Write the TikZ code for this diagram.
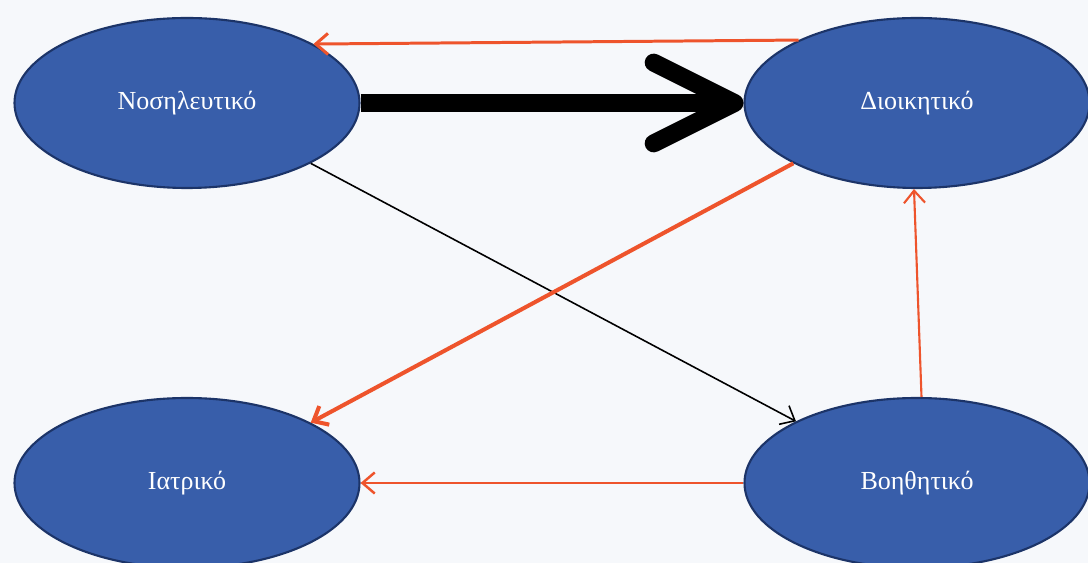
\documentclass[tikz,border=0pt]{standalone}
\usepackage{fontspec}
\setmainfont{Liberation Serif}
\usepackage{tikz}
\usetikzlibrary{positioning}
\usetikzlibrary{shapes.geometric,arrows.meta}
\definecolor{deptblue}{RGB}{56,94,170}
\definecolor{deptline}{RGB}{28,52,104}
\definecolor{flowred}{RGB}{238,84,44}
\definecolor{paper}{RGB}{246,248,251}

\begin{document}
\begin{tikzpicture}[-,>={Straight Barb[length=7pt,width=12pt]},node distance=14.6cm,
  dept node/.style={ellipse,fill=deptblue,draw=deptline,line width=1.2pt,minimum width=6.9cm,
    minimum height=3.4cm,inner sep=0pt,text=white,font=\fontsize{14.8}{16}\selectfont}]
  \fill[paper] (0,0) rectangle (21.76,11.26);
  \useasboundingbox (0,0) rectangle (21.76,11.26);
  \node[dept node] (nos) at (3.74,9.2) {Νοσηλευτικό};
  \node[dept node] (dio) [right of=nos] {Διοικητικό};
  \node[dept node] (iat) [below of=nos,node distance=7.6cm] {Ιατρικό};
  \node[dept node] (boi) [right of=iat] {Βοηθητικό};
  \draw[->,flowred,line width=1.7pt] (dio.152) -- (nos.25);
  \draw[line width=10.2pt,-{Straight Barb[length=46pt,width=46pt,round]}] (nos.east) -- (dio.west);
  \draw[->,line width=0.9pt] (nos.-26) -- (boi.153);
  \draw[->,flowred,line width=2.3pt] (dio.206) -- (iat.26);
  \draw[->,flowred,line width=1.2pt] (boi.87) -- (dio.-92);
  \draw[->,flowred,line width=1.4pt] (boi.west) -- (iat.east);
\end{tikzpicture}
\end{document}
